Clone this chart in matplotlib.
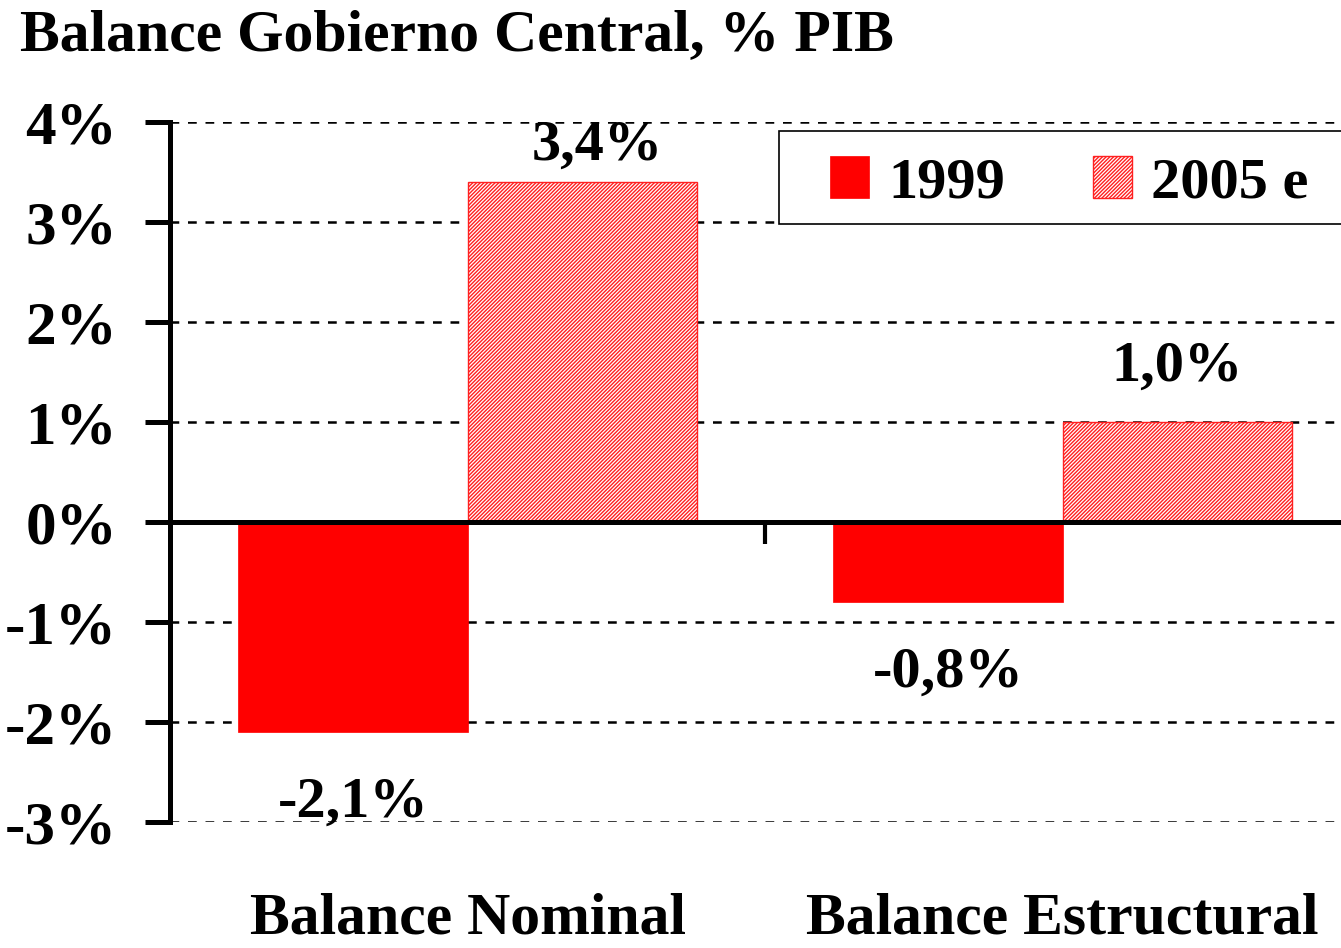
import matplotlib.pyplot as plt
from matplotlib.patches import Rectangle
from matplotlib.transforms import blended_transform_factory
import numpy as np

categories = ["Balance Nominal", "Balance Estructural"]
series_names = ["1999", "2005 e"]
values_1999 = [-2.1, -0.8]
values_2005 = [3.4, 1.0]
y_ticks = [-3, -2, -1, 0, 1, 2, 3, 4]

plt.rcParams["font.family"] = ["Liberation Serif", "DejaVu Serif"]
plt.rcParams["font.weight"] = "bold"
plt.rcParams["hatch.linewidth"] = 1.0

W, H = 1341, 948
fig = plt.figure(figsize=(W / 100, H / 100), dpi=100)
ax = fig.add_axes([170 / W, 1 - 822 / H, 1 - 170 / W, 700 / H])

x = np.arange(len(categories))
w = 0.385
b1 = ax.bar(x - w / 2, values_1999, w, color="#ff0000", edgecolor="#ff0000",
            linewidth=0.5, label=series_names[0], zorder=2)
b2 = ax.bar(x + w / 2, values_2005, w, color="white", edgecolor="#ff2020",
            hatch="/////////", linewidth=1.0, label=series_names[1], zorder=2)

# value labels (offsets in points)
offsets = {b1: [(0, -51), (0, -51)], b2: [(11, 26), (0, 40)]}
for bars, vals in ((b1, values_1999), (b2, values_2005)):
    for rect, v, off in zip(bars, vals, offsets[bars]):
        ax.annotate(f"{v:.1f}%".replace(".", ","),
                    (rect.get_x() + rect.get_width() / 2, v),
                    xytext=off, textcoords="offset points",
                    ha="center", va="center", fontsize=42)

ax.set_xlim(-0.5, 1.468)
ax.set_ylim(-3, 4)
ax.set_yticks(y_ticks)
ax.set_yticklabels([f"{t}%" for t in y_ticks], fontsize=44)
ax.tick_params(axis="y", length=18, width=3.6, pad=20, direction="out")

ax.set_xticks([0.5])
ax.set_xticklabels([""])
ax.tick_params(axis="x", length=16, width=3, direction="out")

ax.spines["top"].set_visible(False)
ax.spines["right"].set_visible(False)
ax.spines["left"].set_linewidth(3.6)
ax.spines["bottom"].set_position(("data", 0))
ax.spines["bottom"].set_linewidth(3.6)
ax.spines["bottom"].set_zorder(3)

ax.yaxis.grid(True, color="black", linestyle=(0, (3.5, 3.5)), linewidth=1.8)
ax.set_axisbelow(True)

# category names along the bottom of the figure
cat_tr = blended_transform_factory(ax.transData, fig.transFigure)
for i, name in enumerate(categories):
    ax.text(i, 1 - 947 / H, name, transform=cat_tr,
            ha="center", va="bottom", fontsize=43)

# legend box (runs off the right edge like the original)
box = Rectangle((779 / W, 1 - 224 / H), 0.5, 93 / H, transform=fig.transFigure,
                facecolor="white", edgecolor="black", linewidth=1.2,
                clip_on=False, zorder=4)
ax.add_patch(box)
leg = ax.legend(loc="center left", bbox_to_anchor=(830 / W, 1 - 183 / H),
                bbox_transform=fig.transFigure, ncol=2, fontsize=42,
                frameon=False, borderaxespad=0, borderpad=0,
                handlelength=0.67, handleheight=0.72, handletextpad=0.33,
                columnspacing=1.5)
leg.set_zorder(5)

fig.text(20 / W, 1 - 50 / H, "Balance Gobierno Central, % PIB",
         fontsize=43, va="baseline", ha="left")

fig.savefig("out.png", dpi=100)
